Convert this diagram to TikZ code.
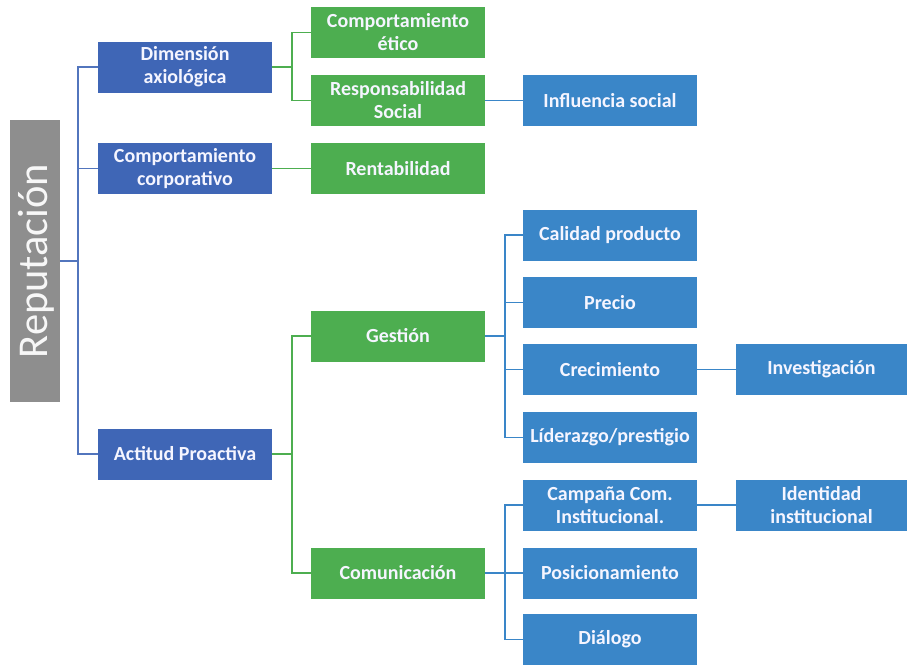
\documentclass[tikz,border=0pt]{standalone}
\usepackage{fontspec}
\setmainfont{Carlito}
\definecolor{dblue}{HTML}{3F66B6}
\definecolor{grn}{HTML}{4DAE50}
\definecolor{lblue}{HTML}{3A86C8}
\definecolor{gry}{HTML}{8E8E8E}
\begin{document}
\begin{tikzpicture}[x=1pt,y=-1pt,
  box/.style={draw=none,minimum width=174pt,minimum height=51pt,inner sep=0pt,
    text=white!96!blue,align=center,font=\fontsize{20}{23}\selectfont\bfseries},
  dbox/.style={box,fill=dblue},
  gbox/.style={box,fill=grn},
  bbox/.style={box,fill=lblue},
  dline/.style={draw=dblue!90,line width=1.6pt},
  gline/.style={draw=grn,line width=1.6pt},
  bline/.style={draw=lblue,line width=1.6pt}]
\useasboundingbox (0,0) rectangle (907,665);
\node[fill=gry,minimum width=50pt,minimum height=282pt,inner sep=0pt] (rep) at (35,261) {};
\node[rotate=90,text=white!94!gray,font=\fontsize{42.5}{45}\selectfont] (reptxt) at (36,261) {Reputación};
\node[dbox] (dim) at (185,67) {Dimensión\\axiológica};
\node[dbox] (comp) at (185,168.5) {Comportamiento\\corporativo};
\node[dbox] (act) at (185,454) {Actitud Proactiva};
\node[gbox] (etico) at (398,32.5) {Comportamiento\\ético};
\node[gbox] (resp) at (398,100.5) {Responsabilidad\\Social};
\node[gbox] (rent) at (398,168.5) {Rentabilidad};
\node[gbox] (gest) at (398,336) {Gestión};
\node[gbox] (comu) at (398,573) {Comunicación};
\node[bbox] (infl) at (610,100.5) {Influencia social};
\node[bbox] (cal) at (610,235) {Calidad producto};
\node[bbox] (pre) at (610,302.5) {Precio};
\node[bbox] (cre) at (610,369.5) {Crecimiento};
\node[bbox] (lid) at (610,437.5) {Líderazgo/prestigio};
\node[bbox] (camp) at (610,505) {Campaña Com.\\Institucional.};
\node[bbox] (pos) at (610,573) {Posicionamiento};
\node[bbox] (dia) at (610,639.5) {Diálogo};
\node[bbox,minimum width=171pt] (inv) at (821.5,369.5) {Investigación};
\node[bbox,minimum width=171pt] (ide) at (821.5,505) {Identidad\\institucional};
% level 1 connectors
\coordinate (j1) at (78,261);
\draw[dline] (rep.east) -- (j1);
\draw[dline] (j1) |- (dim.west);
\draw[dline] (j1) |- (act.west);
\draw[dline] (j1|-comp.west) -- (comp.west);
% level 2
\coordinate (j2) at (292,67);
\draw[gline] (dim.east) -- (j2);
\draw[gline] (j2) |- (etico.west);
\draw[gline] (j2) |- (resp.west);
\draw[gline] (comp.east) -- (rent.west);
\coordinate (j3) at (292,454);
\draw[gline] (act.east) -- (j3);
\draw[gline] (j3) |- (gest.west);
\draw[gline] (j3) |- (comu.west);
% level 3
\draw[bline] (resp.east) -- (infl.west);
\coordinate (j4) at (505,336);
\draw[bline] (gest.east) -- (j4);
\draw[bline] (j4) |- (cal.west);
\draw[bline] (j4) |- (lid.west);
\draw[bline] (j4|-pre.west) -- (pre.west);
\draw[bline] (j4|-cre.west) -- (cre.west);
\coordinate (j5) at (505,573);
\draw[bline] (comu.east) -- (pos.west);
\draw[bline] (j5) |- (camp.west);
\draw[bline] (j5) |- (dia.west);
% level 4
\draw[bline] (cre.east) -- (inv.west);
\draw[bline] (camp.east) -- (ide.west);
\end{tikzpicture}
\end{document}
